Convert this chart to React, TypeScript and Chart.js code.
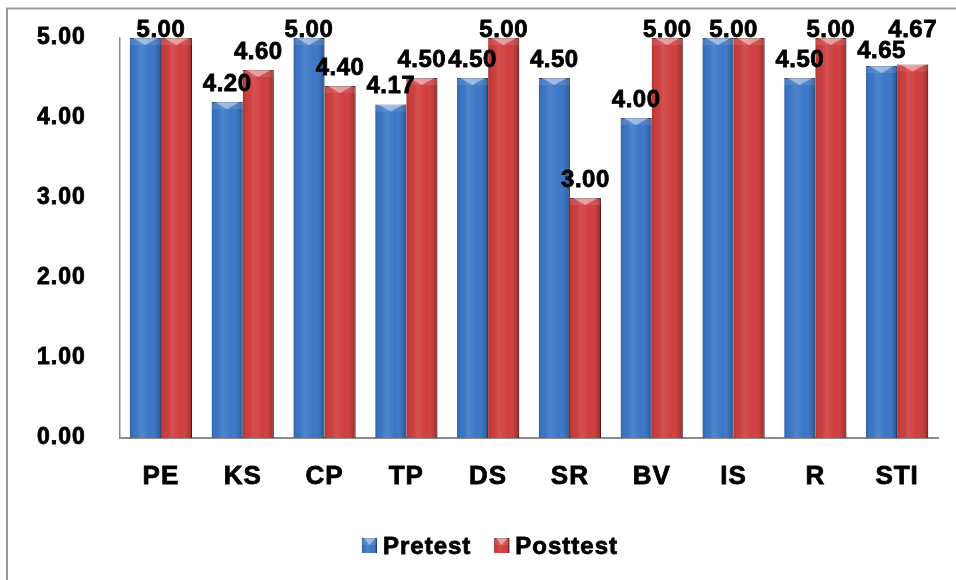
import React, { useEffect, useRef } from "react";
import { Chart, registerables } from "chart.js";

Chart.register(...registerables);

// ---- data ----
const categories = ["PE", "KS", "CP", "TP", "DS", "SR", "BV", "IS", "R", "STI"];
const pretest = [5.0, 4.2, 5.0, 4.17, 4.5, 4.5, 4.0, 5.0, 4.5, 4.65];
const posttest = [5.0, 4.6, 4.4, 4.5, 5.0, 3.0, 5.0, 5.0, 5.0, 4.67];
const seriesNames = ["Pretest", "Posttest"];
const yTicks = [0, 1, 2, 3, 4, 5];

// ---- style ----
const FONT = '"Liberation Sans", Arial, Helvetica, sans-serif';
const BLUE = "#3b77c7";
const BLUE_EDGE = "#1f4683";
const RED = "#d03e3e";
const RED_EDGE = "#7a1b1b";
const AXIS = "#8c8c8c";
const LABEL_GAP = 11;

function shade(ctx: CanvasRenderingContext2D, x0: number, x1: number, top: number, bottom: number) {
  const w = x1 - x0;
  const h = bottom - top;
  if (w <= 0 || h <= 0) return;
  ctx.save();
  const g = ctx.createLinearGradient(x0, 0, x1, 0);
  g.addColorStop(0, "rgba(0,0,0,0.14)");
  g.addColorStop(0.12, "rgba(0,0,0,0.02)");
  g.addColorStop(0.35, "rgba(255,255,255,0.10)");
  g.addColorStop(0.65, "rgba(255,255,255,0.0)");
  g.addColorStop(0.9, "rgba(0,0,0,0.12)");
  g.addColorStop(1, "rgba(0,0,0,0.32)");
  ctx.fillStyle = g;
  ctx.fillRect(x0, top, w, h);
  const d = Math.min(7, h / 2);
  ctx.fillStyle = "rgba(255,255,255,0.10)";
  ctx.fillRect(x0, top, w, d);
  ctx.beginPath();
  ctx.moveTo(x0 + w * 0.1, top);
  ctx.lineTo(x1 - w * 0.1, top);
  ctx.lineTo((x0 + x1) / 2, top + d);
  ctx.closePath();
  ctx.fillStyle = "rgba(255,255,255,0.42)";
  ctx.fill();
  ctx.restore();
}

function boldText(ctx: CanvasRenderingContext2D, t: string, x: number, y: number) {
  ctx.fillText(t, x, y);
  ctx.strokeText(t, x, y);
}

const framePlugin = {
  id: "frame",
  beforeUpdate(chart: any) {
    (chart.ctx as any).letterSpacing = "1px";
  },
  beforeDraw(chart: any) {
    const ctx = chart.ctx;
    (ctx as any).letterSpacing = "1px";
    ctx.save();
    ctx.fillStyle = "#ffffff";
    ctx.fillRect(0, 0, chart.width, chart.height);
    ctx.strokeStyle = "#9a9a9a";
    ctx.lineWidth = 2;
    ctx.strokeRect(7, 8.5, chart.width + 100, chart.height + 100);
    ctx.restore();
  },
};

const shadePlugin = {
  id: "shade",
  afterDatasetsDraw(chart: any) {
    const ctx = chart.ctx;
    chart.data.datasets.forEach((_: any, di: number) => {
      const meta = chart.getDatasetMeta(di);
      meta.data.forEach((el: any) => {
        const p = el.getProps(["x", "y", "width", "base"], true);
        shade(ctx, p.x - p.width / 2, p.x + p.width / 2, p.y, p.base);
      });
    });
  },
};

const labelPlugin = {
  id: "valueLabels",
  afterDatasetsDraw(chart: any) {
    const ctx = chart.ctx;
    const m0 = chart.getDatasetMeta(0);
    const m1 = chart.getDatasetMeta(1);
    const minBase = chart.chartArea.top - 1;
    ctx.save();
    ctx.font = `bold 24px ${FONT}`;
    (ctx as any).letterSpacing = "0.5px";
    ctx.fillStyle = "#000000";
    ctx.strokeStyle = "#000000";
    ctx.lineWidth = 0.8;
    ctx.textAlign = "center";
    ctx.textBaseline = "alphabetic";
    const H = 18;
    categories.forEach((_, i) => {
      const a = m0.data[i].getProps(["x", "y"], true);
      const b = m1.data[i].getProps(["x", "y"], true);
      const va = pretest[i];
      const vb = posttest[i];
      const ta = va.toFixed(2);
      const tb = vb.toFixed(2);
      if (va === vb) {
        boldText(ctx, ta, (a.x + b.x) / 2, Math.max(minBase, Math.min(a.y, b.y) - LABEL_GAP));
        return;
      }
      let ya = Math.max(minBase, a.y - LABEL_GAP);
      let yb = Math.max(minBase, b.y - LABEL_GAP);
      const wa = ctx.measureText(ta).width;
      const wb = ctx.measureText(tb).width;
      const hOverlap = Math.abs(a.x - b.x) < (wa + wb) / 2;
      const vOverlap = Math.abs(ya - yb) < H + 2;
      if (hOverlap && vOverlap) {
        if (vb > va) {
          yb = ya - H - 3;
          if (yb < minBase) {
            ya += minBase - yb;
            yb = minBase;
          }
        } else {
          ya = yb - H - 3;
          if (ya < minBase) {
            yb += minBase - ya;
            ya = minBase;
          }
        }
      }
      boldText(ctx, ta, a.x, ya);
      boldText(ctx, tb, b.x, yb);
    });
    ctx.restore();
  },
};

const legendPlugin = {
  id: "customLegend",
  afterDraw(chart: any) {
    const ctx = chart.ctx;
    ctx.save();
    ctx.font = `bold 24px ${FONT}`;
    (ctx as any).letterSpacing = "1px";
    ctx.textBaseline = "alphabetic";
    ctx.textAlign = "left";
    ctx.strokeStyle = "#000000";
    ctx.lineWidth = 0.8;
    const box = 15;
    const gapText = 6;
    const gapItem = 23;
    const widths = chart.data.datasets.map((d: any) => box + gapText + ctx.measureText(d.label).width);
    const total = widths.reduce((s: number, w: number) => s + w, 0) + gapItem * (widths.length - 1);
    let x = 490 - total / 2;
    const boxTop = 538;
    chart.data.datasets.forEach((d: any, i: number) => {
      ctx.fillStyle = d.borderColor;
      ctx.fillRect(x, boxTop, box, box);
      ctx.fillStyle = d.backgroundColor;
      ctx.fillRect(x, boxTop + 1, box - 1, box - 1);
      shade(ctx, x, x + box, boxTop, boxTop + box);
      ctx.fillStyle = "#000000";
      boldText(ctx, d.label, x + box + gapText, 554);
      x += widths[i] + gapItem;
    });
    ctx.restore();
  },
};

export default function App() {
  const ref = useRef<HTMLCanvasElement | null>(null);

  useEffect(() => {
    if (!ref.current) return;
    const chart = new Chart(ref.current, {
      type: "bar",
      data: {
        labels: categories,
        datasets: [
          {
            label: seriesNames[0],
            data: pretest,
            backgroundColor: BLUE,
            borderColor: BLUE_EDGE,
            borderWidth: { top: 1, right: 1, left: 0, bottom: 0 },
            borderSkipped: "bottom",
            barPercentage: 1.0,
            categoryPercentage: 0.76,
          },
          {
            label: seriesNames[1],
            data: posttest,
            backgroundColor: RED,
            borderColor: RED_EDGE,
            borderWidth: { top: 1, right: 1, left: 0, bottom: 0 },
            borderSkipped: "bottom",
            barPercentage: 1.0,
            categoryPercentage: 0.76,
          },
        ],
      },
      options: {
        animation: false,
        responsive: true,
        maintainAspectRatio: false,
        events: [],
        layout: { padding: { left: 37, right: 18, top: 38, bottom: 92 } },
        plugins: {
          legend: { display: false },
          tooltip: { enabled: false },
          title: { display: false },
        },
        scales: {
          x: {
            grid: { display: false, drawTicks: false },
            border: { display: true, color: AXIS, width: 2 },
            ticks: {
              color: "#000000",
              font: { family: FONT, size: 26, weight: "bold" },
              textStrokeColor: "#000000",
              textStrokeWidth: 0.8,
              padding: 23,
              maxRotation: 0,
              autoSkip: false,
            },
            afterFit: (s: any) => {
              s.height = 50;
            },
          },
          y: {
            min: yTicks[0],
            max: yTicks[yTicks.length - 1],
            grid: { display: false, drawTicks: false },
            border: { display: true, color: AXIS, width: 1.5 },
            afterBuildTicks: (s: any) => {
              s.ticks = yTicks.map((v) => ({ value: v }));
            },
            ticks: {
              color: "#000000",
              font: { family: FONT, size: 23, weight: "bold" },
              textStrokeColor: "#000000",
              textStrokeWidth: 0.8,
              padding: 0,
              crossAlign: "far",
              callback: (v: any) => Number(v).toFixed(2),
            },
            afterFit: (s: any) => {
              s.width = 83;
            },
          },
        },
      },
      plugins: [framePlugin, shadePlugin, labelPlugin, legendPlugin],
    });
    return () => chart.destroy();
  }, []);

  return (
    <div style={{ position: "fixed", left: 0, top: 0, width: 956, height: 580, background: "#fff" }}>
      <canvas ref={ref} />
    </div>
  );
}
